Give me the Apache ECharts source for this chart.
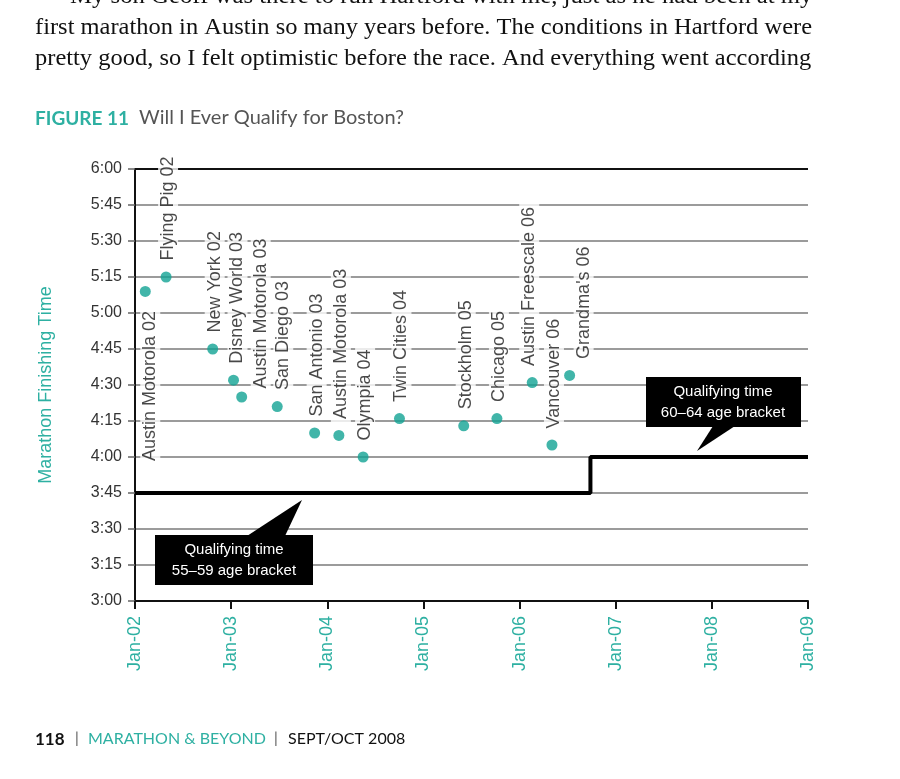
<!DOCTYPE html>
<html>
<head>
<meta charset="utf-8">
<script src="https://cdn.jsdelivr.net/npm/echarts@6/dist/echarts.min.js"></script>
<style>
  html, body { margin: 0; padding: 0; background: #fff; }
  #chart { width: 900px; height: 779px; }
</style>
</head>
<body>
<div id="chart"></div>
<script>
// races
const raceNames = [
  'Austin Motorola 02', 'Flying Pig 02', 'New York 02', 'Disney World 03',
  'Austin Motorola 03', 'San Diego 03', 'San Antonio 03', 'Austin Motorola 03',
  'Olympia 04', 'Twin Cities 04', 'Stockholm 05', 'Chicago 05',
  'Austin Freescale 06', 'Vancouver 06', "Grandma's 06"
]
const raceDates = [
  '2002-02-09', '2002-04-29', '2002-10-23', '2003-01-10',
  '2003-02-10', '2003-06-25', '2003-11-14', '2004-02-14',
  '2004-05-16', '2004-10-01', '2005-06-03', '2005-10-07',
  '2006-02-18', '2006-05-04', '2006-07-10'
]
const raceTimes = [
  '5:09', '5:15', '4:45', '4:32',
  '4:25', '4:21', '4:10', '4:09',
  '4:00', '4:16', '4:13', '4:16',
  '4:31', '4:05', '4:34'
]

// Boston qualifying standard (step line)
const qualDates = ['2002-01-01', '2006-09-27', '2006-09-27', '2009-01-01']
const qualTimes = ['3:45', '3:45', '4:00', '4:00']

const yearTicks = [2002, 2009]
const timeTicks = ['3:00', '6:00']

const teal = '#12a393'
const tealText = '#2eb0a2'

function toYear(s) {
  const d = new Date(s + 'T00:00:00Z')
  const y = d.getUTCFullYear()
  return y + (d - Date.UTC(y, 0, 1)) / (365 * 864e5)
}
function toMin(s) {
  const p = s.split(':')
  return +p[0] * 60 + +p[1]
}
function fmtMin(m) {
  const h = Math.floor(m / 60)
  const mm = m % 60
  return h + ':' + (mm < 10 ? '0' : '') + mm
}

// label placement tweaks (layout only); offset is in the rotated text frame:
// [along the text, across it]
const labelTweaks = {
  0: { position: 'bottom', align: 'right', distance: 11, offset: [0, 5] },
  3: { offset: [0, 4] },
  4: { distance: 0, offset: [0, 19] },
  5: { offset: [0, 6] },
  12: { offset: [0, -3] },
  14: { offset: [0, 14] }
}

const raceData = raceNames.map((n, i) => {
  const item = { name: n, value: [toYear(raceDates[i]), toMin(raceTimes[i])] }
  if (labelTweaks[i]) item.label = labelTweaks[i]
  return item
})
const qualData = qualDates.map((d, i) => [toYear(d), toMin(qualTimes[i])])

const chart = echarts.init(document.getElementById('chart'))

const bodyFont = '"Liberation Serif", "DejaVu Serif", serif'
const sansFont = 'Lato, "Open Sans", sans-serif'
const helv = '"Liberation Sans", Arial, sans-serif'

chart.setOption({
  animation: false,
  textStyle: { fontFamily: helv },
  grid: { left: 135, right: 92, top: 169, bottom: 178 },
  xAxis: {
    type: 'value',
    min: yearTicks[0],
    max: yearTicks[1],
    interval: 1,
    axisLine: { lineStyle: { color: '#111', width: 2 } },
    axisTick: { length: 8, lineStyle: { color: '#111', width: 2 } },
    axisLabel: {
      rotate: 90,
      margin: 15,
      color: tealText,
      fontSize: 18,
      formatter: v => 'Jan-' + String(v % 100).padStart(2, '0')
    },
    splitLine: { show: false }
  },
  yAxis: {
    type: 'value',
    min: toMin(timeTicks[0]),
    max: toMin(timeTicks[1]),
    interval: 15,
    name: 'Marathon Finishing Time',
    nameLocation: 'middle',
    nameRotate: 90,
    nameGap: 80,
    nameTextStyle: { color: tealText, fontSize: 18 },
    axisLine: { show: true, lineStyle: { color: '#111', width: 2 } },
    axisTick: { show: true, length: 7, lineStyle: { color: '#666', width: 1.5 } },
    axisLabel: { color: '#333', fontSize: 16, margin: 13, formatter: fmtMin },
    splitLine: { lineStyle: { color: '#7a7a7a', width: 1.5 } }
  },
  series: [
    {
      type: 'line',
      data: qualData,
      symbol: 'none',
      z: 2,
      lineStyle: { color: '#000', width: 4 },
      markLine: {
        silent: true,
        symbol: 'none',
        label: { show: false },
        lineStyle: { color: '#111', width: 2, type: 'solid' },
        data: [{ yAxis: toMin(timeTicks[1]) }]
      }
    },
    {
      type: 'scatter',
      data: raceData,
      symbolSize: 11,
      z: 5,
      itemStyle: { color: teal },
      label: {
        show: true,
        formatter: p => p.name,
        position: 'top',
        rotate: 90,
        align: 'left',
        verticalAlign: 'middle',
        distance: 8,
        offset: [0, 2],
        fontSize: 18,
        color: '#1a1a1a',
        backgroundColor: '#fff',
        padding: [1, 3]
      }
    }
  ],
  graphic: [
    // body text above the figure
    { type: 'text', left: 70, top: -15, scaleX: 1.031, style: { text: 'My son Geoff was there to run Hartford with me, just as he had been at my', font: '24px ' + bodyFont, fill: '#111' } },
    { type: 'text', left: 35, top: 16, scaleX: 1.02, style: { text: 'first marathon in Austin so many years before. The conditions in Hartford were', font: '24px ' + bodyFont, fill: '#111' } },
    { type: 'text', left: 35, top: 47, scaleX: 1.02, style: { text: 'pretty good, so I felt optimistic before the race. And everything went according', font: '24px ' + bodyFont, fill: '#111' } },
    // figure caption
    { type: 'text', left: 35, top: 109, style: { text: 'FIGURE 11', font: 'bold 19px ' + sansFont, fill: tealText } },
    { type: 'text', left: 139, top: 108, style: { text: 'Will I Ever Qualify for Boston?', font: '20px ' + sansFont, fill: '#555' } },
    // callout 55-59
    { type: 'polygon', shape: { points: [[247, 536], [285, 536], [302, 500]] }, style: { fill: '#000' }, z: 10 },
    { type: 'rect', shape: { x: 155, y: 535, width: 158, height: 50 }, style: { fill: '#000' }, z: 10 },
    { type: 'text', x: 234, y: 560, z: 11, style: { text: 'Qualifying time\n55\u201359 age bracket', font: '15px ' + helv, fill: '#fff', align: 'center', verticalAlign: 'middle', lineHeight: 21 } },
    // callout 60-64
    { type: 'polygon', shape: { points: [[713, 426], [735, 426], [697, 451]] }, style: { fill: '#000' }, z: 10 },
    { type: 'rect', shape: { x: 646, y: 377, width: 155, height: 50 }, style: { fill: '#000' }, z: 10 },
    { type: 'text', x: 723, y: 402, z: 11, style: { text: 'Qualifying time\n60\u201364 age bracket', font: '15px ' + helv, fill: '#fff', align: 'center', verticalAlign: 'middle', lineHeight: 21 } },
    // footer
    { type: 'text', left: 35, top: 731, style: { text: '118', font: 'bold 17px ' + sansFont, fill: '#111' } },
    { type: 'text', left: 75, top: 731, style: { text: '|', font: '15px ' + sansFont, fill: '#555' } },
    { type: 'text', left: 88, top: 731, style: { text: 'MARATHON & BEYOND', font: '16px ' + sansFont, fill: tealText } },
    { type: 'text', left: 274, top: 731, style: { text: '|', font: '15px ' + sansFont, fill: '#555' } },
    { type: 'text', left: 288, top: 731, style: { text: 'SEPT/OCT 2008', font: '16px ' + sansFont, fill: '#111' } }
  ]
})
</script>
</body>
</html>
